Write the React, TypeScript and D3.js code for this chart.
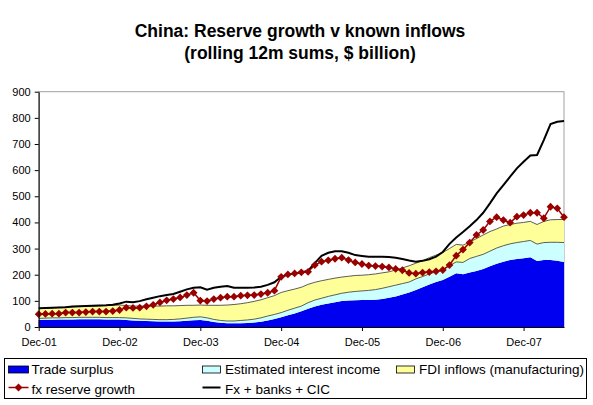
import * as d3 from "d3";
import { useEffect, useRef } from "react";

// month labels along the axis, one every 12 points starting Dec-01
const xTickLabels = ["Dec-01", "Dec-02", "Dec-03", "Dec-04", "Dec-05", "Dec-06", "Dec-07"];
const yTicks = [0, 100, 200, 300, 400, 500, 600, 700, 800, 900];

// monthly rolling 12m sums, Dec-01 .. Jun-08 ($bn)
const tradeSurplus = [
    27, 28, 28, 29, 29, 29, 30, 30, 30, 30, 29, 29,
    29, 27, 25, 24, 23, 22, 21, 21, 21, 22, 24, 26,
    27, 24, 19, 16, 14, 14, 14, 15, 17, 20, 25, 31,
    37, 45, 52, 60, 70, 78, 85, 90, 95, 99, 101, 102,
    103, 103, 104, 107, 112, 117, 124, 132, 142, 152, 163, 172,
    180, 192, 206, 202, 208, 214, 222, 232, 242, 250, 256, 260,
    263, 267, 252, 256, 256, 253, 249,
];
const interestIncome = [
    6, 6, 7, 6, 7, 7, 7, 7, 7, 7, 7, 7,
    7, 8, 8, 7, 7, 7, 7, 7, 8, 9, 10, 11,
    12, 11, 10, 9, 9, 9, 11, 12, 13, 15, 17, 17,
    18, 19, 20, 20, 23, 25, 25, 27, 28, 30, 32, 34,
    35, 37, 39, 41, 42, 43, 42, 40, 42, 41, 40, 39,
    38, 43, 43, 45, 54, 56, 56, 58, 60, 61, 62, 63,
    64, 64, 65, 67, 68, 71, 74,
];
const fdiInflows = [
    37, 38, 38, 40, 40, 41, 41, 42, 43, 44, 46, 47,
    48, 47, 47, 49, 50, 51, 52, 53, 52, 51, 49, 46,
    45, 48, 54, 58, 61, 63, 64, 66, 68, 69, 70, 72,
    77, 75, 73, 72, 70, 68, 67, 65, 64, 62, 61, 61,
    60, 60, 60, 59, 57, 58, 60, 62, 60, 61, 62, 64,
    67, 65, 67, 66, 63, 68, 74, 75, 73, 75, 74, 74,
    73, 73, 75, 81, 86, 87, 88,
];
const fxReserveGrowth = [
    49, 50, 51, 51, 55, 55, 55, 57, 59, 59, 59, 61,
    65, 74, 73, 74, 79, 85, 94, 102, 107, 113, 122, 131,
    101, 99, 107, 112, 116, 116, 120, 121, 122, 126, 131, 139,
    192, 201, 205, 209, 211, 237, 250, 255, 261, 265, 256, 247,
    241, 235, 233, 231, 228, 222, 217, 207, 204, 208, 210, 213,
    218, 237, 273, 296, 323, 352, 371, 404, 420, 409, 399, 422,
    428, 437, 437, 416, 460, 454, 420,
];
const fxBanksCic = [
    72, 73, 74, 75, 76, 78, 79, 80, 81, 82, 83, 85,
    90, 97, 95, 99, 106, 112, 118, 122, 126, 135, 144, 150,
    152, 143, 150, 154, 157, 150, 150, 150, 151, 154, 161, 171,
    192, 201, 205, 209, 215, 244, 272, 284, 290, 290, 284, 275,
    272, 269, 269, 269, 268, 265, 260, 254, 250, 253, 259, 269,
    287, 318, 342, 363, 385, 409, 437, 473, 511, 543, 575, 607,
    632, 656, 658, 715, 776, 785, 788,
];

const layerNames = ["Trade surplus", "Estimated interest income", "FDI inflows (manufacturing)"];
const layerColors = ["#0000f0", "#ccffff", "#ffff99"];
const RED = "#990000";
const FONT = "'Liberation Sans', Arial, sans-serif";

const W = 593;
const H = 405;

function ReserveChart() {
    const svgRef = useRef<SVGSVGElement | null>(null);

    useEffect(() => {
        if (!svgRef.current) return;
        const svg = d3.select(svgRef.current);
        svg.selectAll("*").remove();

        const left = 38.7, right = 564, top = 91.7, bottom = 327;
        const n = tradeSurplus.length;

        const x = d3.scaleLinear().domain([0, n - 1]).range([left, right]);
        const y = d3.scaleLinear().domain([0, 900]).range([bottom, top]);

        // title
        const title = svg.append("g")
            .attr("font-family", FONT)
            .attr("font-weight", "bold")
            .attr("font-size", 17.5)
            .attr("text-anchor", "middle");
        title.append("text").attr("x", 300).attr("y", 37).text("China: Reserve growth v known inflows");
        title.append("text").attr("x", 300).attr("y", 59).text("(rolling 12m sums, $ billion)");

        // plot frame (grey top/right)
        svg.append("rect")
            .attr("x", left).attr("y", top)
            .attr("width", right - left).attr("height", bottom - top)
            .attr("fill", "none").attr("stroke", "#a0a0a0").attr("stroke-width", 1);

        // stacked areas
        const rows = tradeSurplus.map((t, i) => ({ i, t, r: interestIncome[i], f: fdiInflows[i] }));
        const stack = d3.stack<any>().keys(["t", "r", "f"])(rows);
        const area = d3.area<any>()
            .x((d) => x(d.data.i))
            .y0((d) => y(d[0]))
            .y1((d) => y(d[1]));
        const topLine = d3.line<any>().x((d) => x(d.data.i)).y((d) => y(d[1]));

        stack.forEach((layer, k) => {
            svg.append("path")
                .datum(layer)
                .attr("d", area)
                .attr("fill", layerColors[k]);
        });
        stack.forEach((layer, k) => {
            if (k === 0) return;
            svg.append("path")
                .datum(layer)
                .attr("d", topLine)
                .attr("fill", "none")
                .attr("stroke", "#333")
                .attr("stroke-width", 0.8);
        });

        // Fx + banks + CIC
        const line = d3.line<number>().x((_, i) => x(i)).y((d) => y(d));
        svg.append("path")
            .datum(fxBanksCic)
            .attr("d", line)
            .attr("fill", "none")
            .attr("stroke", "#000")
            .attr("stroke-width", 2);

        // fx reserve growth
        svg.append("path")
            .datum(fxReserveGrowth)
            .attr("d", line)
            .attr("fill", "none")
            .attr("stroke", RED)
            .attr("stroke-width", 1.5);
        const diamond = "M0,-3.9L3.9,0L0,3.9L-3.9,0Z";
        svg.append("g")
            .selectAll("path")
            .data(fxReserveGrowth)
            .enter()
            .append("path")
            .attr("d", diamond)
            .attr("transform", (d, i) => `translate(${x(i)},${y(d)})`)
            .attr("fill", RED);

        // y axis
        const yAxis = d3.axisLeft(y).tickValues(yTicks).tickSize(4).tickSizeOuter(0);
        const yg = svg.append("g").attr("transform", `translate(${left},0)`).call(yAxis);
        yg.select(".domain").attr("stroke", "#000");
        yg.selectAll("text").attr("font-family", FONT).attr("font-size", 11).attr("fill", "#000").attr("dx", -1);

        // x axis
        const xAxis = d3.axisBottom(x)
            .tickValues(xTickLabels.map((_, k) => k * 12))
            .tickFormat((d) => xTickLabels[(d as number) / 12])
            .tickSize(4)
            .tickSizeOuter(0);
        const xg = svg.append("g").attr("transform", `translate(0,${bottom})`).call(xAxis);
        xg.select(".domain").attr("stroke", "#000");
        xg.selectAll("text")
            .attr("font-family", FONT).attr("font-size", 11).attr("fill", "#000")
            .attr("y", 18.5).attr("dy", 0);

        // legend
        const lg = svg.append("g").attr("font-family", FONT).attr("font-size", 13.5);
        lg.append("rect")
            .attr("x", 4.5).attr("y", 358.5).attr("width", 582).attr("height", 40)
            .attr("fill", "#fff").attr("stroke", "#000");
        const colX = [8.5, 202.5, 396.5];
        const textX = [31.5, 225, 419];
        const row1 = 369.5, row2 = 387.5;
        layerNames.forEach((name, k) => {
            lg.append("rect")
                .attr("x", colX[k]).attr("y", row1 - 3.5)
                .attr("width", k === 0 ? 20 : 18).attr("height", 7)
                .attr("fill", layerColors[k]).attr("stroke", "#000").attr("stroke-width", 0.8);
            lg.append("text").attr("x", textX[k]).attr("y", row1 + 4.8).text(name);
        });
        lg.append("line")
            .attr("x1", colX[0]).attr("x2", colX[0] + 20).attr("y1", row2).attr("y2", row2)
            .attr("stroke", RED).attr("stroke-width", 1.5);
        lg.append("path").attr("d", diamond).attr("transform", `translate(${colX[0] + 10},${row2})`).attr("fill", RED);
        lg.append("text").attr("x", textX[0]).attr("y", row2 + 6).text("fx reserve growth");
        lg.append("line")
            .attr("x1", colX[1]).attr("x2", colX[1] + 18).attr("y1", row2).attr("y2", row2)
            .attr("stroke", "#000").attr("stroke-width", 2);
        lg.append("text").attr("x", textX[1]).attr("y", row2 + 6).text("Fx + banks + CIC");
    }, []);

    return <svg ref={svgRef} width={W} height={H} style={{ position: "absolute", left: 0, top: 0, background: "#fff" }} />;
}

export default function App() {
    return <ReserveChart />;
}
